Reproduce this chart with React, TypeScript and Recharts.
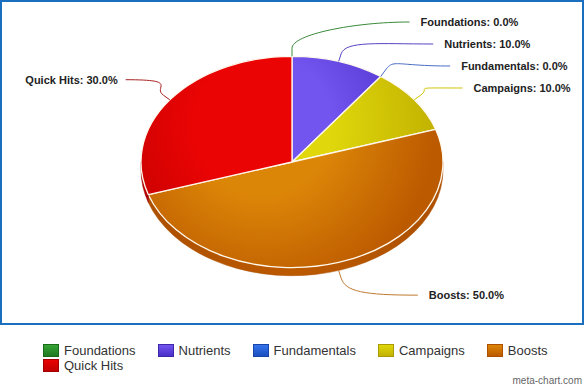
import { Legend, Pie, PieChart } from 'recharts';

const CATEGORIES = ['Foundations', 'Nutrients', 'Fundamentals', 'Campaigns', 'Boosts', 'Quick Hits'];
const VALUES = [0, 10, 0, 10, 50, 30];

// light / dark shade of every slice, same order as CATEGORIES
const LIGHT = ['#36a436', '#7254ee', '#3474ec', '#e0d80c', '#dc8608', '#ea0404'];
const DARK = ['#1f7a1f', '#4a30c8', '#1c4fc0', '#c2b200', '#bc5a00', '#c00000'];
const WALL = ['#1a6a1a', '#3c28a8', '#1a45a8', '#a89a00', '#ac5000', '#a00000'];
const LINE = ['#3a8a3a', '#5545c4', '#4a6cc4', '#cfc400', '#c07a30', '#a82020'];

const PIE_CX = 292;
const PIE_CY = 162;
const PIE_R = 151;
const TILT = 0.7;
const DEPTH = 8;
const LABEL_RY = 140;
const LABEL_A = 187;
const LABEL_B = 180;
const LABEL_GAP = 22;
const RAD = Math.PI / 180;

const data = CATEGORIES.map((name, i) => ({ name, value: VALUES[i] }));

// spread the outside labels so they don't overlap (per side)
const layoutLabels = (values: number[]) => {
  const total = values.reduce((a, b) => a + b, 0);
  let acc = 0;
  const items = values.map((v, i) => {
    const a = ((acc + v / 2) / total) * 360;
    acc += v;
    return { i, a, side: a < 180 ? 1 : -1, dy: -LABEL_RY * Math.cos(a * RAD), dx: 0 };
  });
  [1, -1].forEach((side) => {
    const group = items.filter((it) => it.side === side).sort((p, q) => p.dy - q.dy);
    group.forEach((it, k) => {
      if (k > 0) it.dy = Math.max(it.dy, group[k - 1].dy + LABEL_GAP);
      it.dy = Math.min(it.dy, LABEL_RY);
    });
  });
  items.forEach((it) => {
    const t = Math.max(0, 1 - (it.dy / LABEL_B) ** 2);
    it.dx = it.side * LABEL_A * Math.sqrt(t);
  });
  return items.sort((p, q) => p.i - q.i);
};

const labelLayout = layoutLabels(VALUES);

const SliceShape = (props: any) => {
  const { cx, cy, outerRadius, startAngle, endAngle } = props;
  const name = props.payload?.name ?? props.name;
  const i = CATEGORIES.indexOf(name);
  if (Math.abs(startAngle - endAngle) < 0.01) return <g />;
  const rx = outerRadius;
  const ry = outerRadius * TILT;
  const pt = (deg: number, dy = 0) =>
    `${cx + rx * Math.cos(deg * RAD)},${cy - ry * Math.sin(deg * RAD) + dy}`;
  const hi = Math.max(startAngle, endAngle);
  const lo = Math.min(startAngle, endAngle);
  const large = hi - lo > 180 ? 1 : 0;
  const top = `M${cx},${cy} L${pt(hi)} A${rx},${ry} 0 ${large} 1 ${pt(lo)} Z`;

  // visible side wall: the part of the slice in the front (lower) half
  const wHi = Math.min(hi, 0);
  const wLo = Math.max(lo, -180);
  let wall = '';
  if (wHi - wLo > 0.01) {
    wall =
      `M${pt(wHi)} A${rx},${ry} 0 0 1 ${pt(wLo)} L${pt(wLo, DEPTH)} ` +
      `A${rx},${ry} 0 0 0 ${pt(wHi, DEPTH)} Z`;
  }
  const gid = `slice-grad-${i}`;
  const wid = `wall-grad-${i}`;
  return (
    <g>
      <defs>
        <radialGradient
          id={gid}
          gradientUnits="userSpaceOnUse"
          cx={cx - rx * 0.2}
          cy={cy - ry * 0.35}
          r={rx * 1.15}
        >
          <stop offset="0%" stopColor={LIGHT[i]} />
          <stop offset="40%" stopColor={LIGHT[i]} />
          <stop offset="100%" stopColor={DARK[i]} />
        </radialGradient>
        <linearGradient id={wid} x1="0" y1="0" x2="1" y2="0">
          <stop offset="0%" stopColor={WALL[i]} />
          <stop offset="50%" stopColor={DARK[i]} />
          <stop offset="100%" stopColor={WALL[i]} />
        </linearGradient>
      </defs>
      {wall && <path d={wall} fill={`url(#${wid})`} stroke={WALL[i]} strokeWidth={0.5} />}
      <path d={top} fill={`url(#${gid})`} stroke="#fff8ec" strokeWidth={1.3} strokeLinejoin="round" />
    </g>
  );
};

const renderLabel = (props: any) => {
  const { cx, cy, outerRadius, midAngle, index, percent, name } = props;
  const lay = labelLayout[index];
  if (!lay) return null;
  const s = Math.sin(midAngle * RAD);
  const c = Math.cos(midAngle * RAD);
  const ex = cx + outerRadius * c;
  const ey = cy - outerRadius * TILT * s + (s < 0 ? DEPTH : 0);
  const m1x = ex + c * 8;
  const m1y = ey - s * 8;
  const c1x = m1x + c * 14;
  const c1y = m1y - s * 14;
  const endX = cx + lay.dx;
  const endY = cy + lay.dy;
  const c2x = endX - lay.side * 55;
  const d = `M${ex},${ey} L${m1x},${m1y} C${c1x},${c1y} ${c2x},${endY} ${endX},${endY}`;
  const tx = endX + lay.side * (lay.side > 0 ? 11 : 8);
  return (
    <g>
      <path d={d} fill="none" stroke={LINE[index]} strokeWidth={1} />
      <text
        x={tx}
        y={endY + 4}
        textAnchor={lay.side > 0 ? 'start' : 'end'}
        fontFamily="'Liberation Sans', Arial, sans-serif"
        fontWeight="bold"
        fontSize={11}
        fill="#222"
      >
        {`${name}: ${(percent * 100).toFixed(1)}%`}
      </text>
    </g>
  );
};

const renderLegend = (props: any) => {
  const payload: any[] = props.payload?.length
    ? [...props.payload].sort(
        (p, q) => CATEGORIES.indexOf(p.value) - CATEGORIES.indexOf(q.value)
      )
    : CATEGORIES.map((value) => ({ value }));
  return (
    <div
      style={{
        display: 'flex',
        flexWrap: 'wrap',
        width: 530,
        fontFamily: "'Liberation Sans', Arial, sans-serif",
        fontSize: 13,
        color: '#333',
        lineHeight: '15px',
      }}
    >
      {payload.map((entry) => {
        const i = CATEGORIES.indexOf(entry.value);
        return (
          <div key={entry.value} style={{ display: 'flex', alignItems: 'center', marginRight: 22 }}>
            <span
              style={{
                display: 'inline-block',
                width: 14,
                height: 11,
                marginRight: 5,
                border: `1px solid ${WALL[i]}`,
                background: `linear-gradient(${LIGHT[i]}, ${DARK[i]})`,
              }}
            />
            <span>{entry.value}</span>
          </div>
        );
      })}
    </div>
  );
};

export default function App() {
  return (
    <div style={{ position: 'absolute', left: 0, top: 0, width: 585, height: 388, background: '#fff' }}>
      <div
        style={{
          position: 'absolute',
          left: 0,
          top: 0,
          width: 580,
          height: 321,
          border: '2px solid #1b6fbf',
          pointerEvents: 'none',
        }}
      />
      <PieChart width={585} height={388} margin={{ top: 0, right: 0, bottom: 0, left: 0 }}>
        <Pie
          data={data}
          dataKey="value"
          nameKey="name"
          cx={PIE_CX}
          cy={PIE_CY}
          outerRadius={PIE_R}
          startAngle={90}
          endAngle={-270}
          shape={SliceShape}
          label={renderLabel}
          labelLine={false}
          isAnimationActive={false}
        />
        <Legend
          content={renderLegend}
          itemSorter={null as any}
          wrapperStyle={{ position: 'absolute', left: 43, top: 343, bottom: 'auto', width: 540 }}
        />
      </PieChart>
      <div
        style={{
          position: 'absolute',
          right: 3,
          top: 375,
          fontFamily: "'Liberation Sans', Arial, sans-serif",
          fontSize: 10,
          color: '#666',
        }}
      >
        meta-chart.com
      </div>
    </div>
  );
}
